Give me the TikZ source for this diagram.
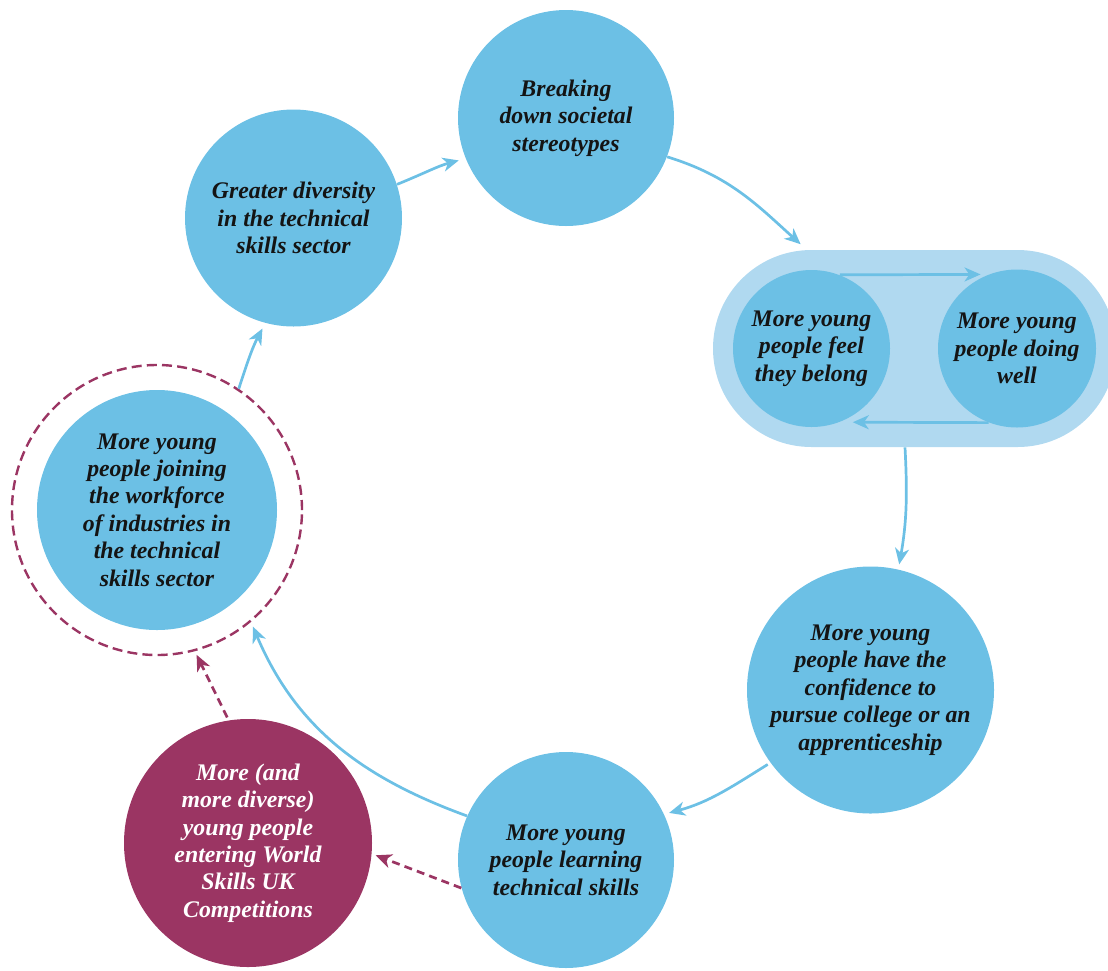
\documentclass[tikz,border=0pt]{standalone}
\usepackage{fontspec}
\setmainfont{Liberation Serif}
\usetikzlibrary{arrows.meta,positioning,calc}
\definecolor{wsblue}{HTML}{6CC0E5}
\definecolor{wspale}{HTML}{B0D9F0}
\definecolor{wsplum}{HTML}{9B3563}
\definecolor{wsink}{HTML}{141414}

\begin{document}
\begin{tikzpicture}[x=0.5pt,y=-0.5pt,
  stage/.style={circle,fill=wsblue,inner sep=0pt,text=wsink,align=center,
                font=\fontsize{11.9}{13.7}\selectfont\bfseries\itshape},
  wsnode/.style={stage,fill=wsplum,text=white},
  ring/.style={circle,draw=wsplum,line width=1.2pt,dash pattern=on 5pt off 2.6pt,
               minimum size=145pt,inner sep=0pt},
  pillbox/.style={rectangle,fill=wspale,rounded corners=49.2pt,
                  minimum width=201.5pt,minimum height=98.5pt,inner sep=0pt},
  arr/.style={-{Stealth[length=8pt,width=7pt,inset=2.4pt]},line width=1.35pt,
              wsblue,shorten >=2.5pt},
  dasharr/.style={-{Stealth[length=8pt,width=7pt,inset=2.4pt]},line width=1.35pt,
                  wsplum,dash pattern=on 4pt off 2.6pt,shorten >=2pt}
]
  \useasboundingbox (0,0) rectangle (1108,970);
  \clip (0,0) rectangle (1108,970);

  % ---- Main cycle -------------------------------------------
  \node[stage,minimum size=108pt] (brk) at (566,118)
    {Breaking\\down societal\\stereotypes};
  \node[stage,minimum size=108.5pt] (div) at (293.5,218)
    {Greater diversity\\in the technical\\skills sector};

  % pill with the two linked outcomes
  \node[pillbox] (pill) at (914.5,348.5) {};
  \node[stage,minimum size=78.5pt] (feel) at (811.5,348.5)
    {More young\\people feel\\they belong};
  \node[stage,minimum size=79pt] (well) at (1017,348.5)
    {More young\\people doing\\well};

  \node[stage,minimum size=123.5pt] (conf) at (870.5,690)
    {More young\\people have the\\confidence to\\pursue college or an\\apprenticeship};
  \node[stage,minimum size=108pt] (learn) at (566,860)
    {More young\\people learning\\technical skills};

  \node[ring] (jring) at (157,510) {};
  \node[stage,minimum size=120pt] (join) at (157,510)
    {More young\\people joining\\the workforce\\of industries in\\the technical\\skills sector};

  % ---- WorldSkills UK ----------------------------------------
  \node[wsnode,minimum size=124pt] (comp) at (248,843)
    {More (and\\more diverse)\\young people\\entering World\\Skills UK\\Competitions};

  % Arrows round the cycle
  \draw[arr,shorten >=3.5pt] (div.18) to[out=22,in=195] (brk.202);
  \draw[arr,shorten >=4pt] (brk.-21) to[out=-17,in=138] ([xshift=47pt]pill.north west);
  \draw[arr,shorten >=4pt] (feel.69) -- (well.111);
  \draw[arr,shorten >=6.5pt] (well.249) -- (feel.291);
  \draw[arr] ([xshift=-4.75pt]pill.south) to[out=-87,in=80] (conf.77);
  \draw[arr,shorten <=1.5pt] (conf.216) to[out=-148,in=15] (learn.25);
  \draw[arr] (learn.156) to[out=160,in=-67] (jring.-50);
  \draw[arr,shorten >=3pt] (jring.56) to[out=72,in=-118] (div.255);

  % Dashed links
  \draw[dasharr,shorten <=1.5pt] (comp.99.5) -- (jring.-75);
  \draw[dasharr] (learn.195) -- (comp.-5.5);

\end{tikzpicture}
\end{document}
